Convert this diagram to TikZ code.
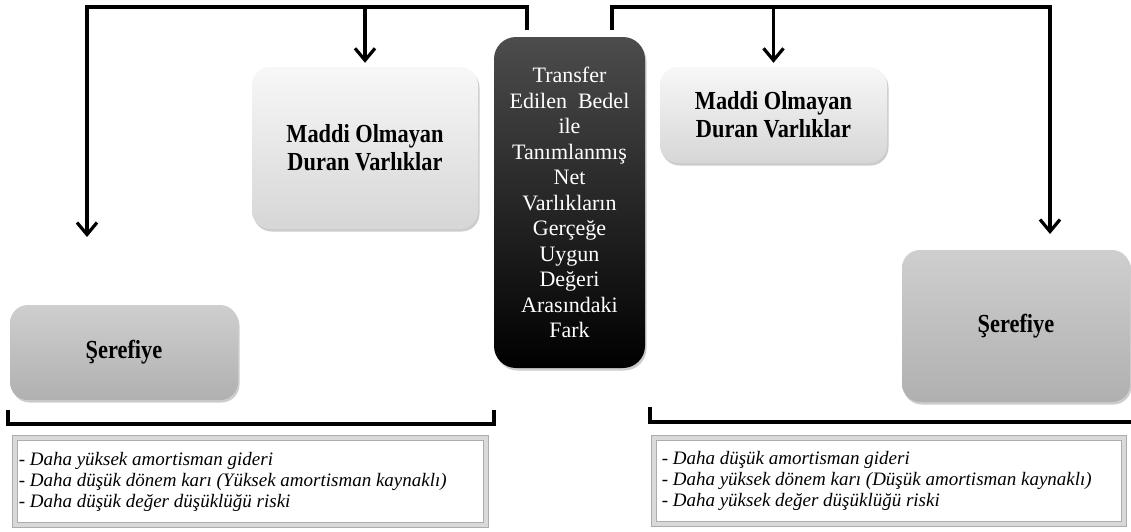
\documentclass[tikz,border=0pt]{standalone}
\usepackage{fontspec}
\setmainfont{Liberation Serif}
\newfontfamily\narrowserif[FakeStretch=0.86]{Liberation Serif}
\usetikzlibrary{arrows.meta,shadows}

\begin{document}
\begin{tikzpicture}[x=1pt,y=-1pt,
  box/.style={rounded corners=18pt,inner sep=0pt,align=center,
    font=\narrowserif\fontsize{26}{28}\selectfont\bfseries,
    drop shadow={shadow xshift=1.5pt,shadow yshift=-2.5pt,opacity=.4}},
  lightbox/.style={box,top color=gray!6,bottom color=gray!32},
  darkbox/.style={box,top color=gray!38,bottom color=gray!62},
  listbox/.style={draw=gray!65,double=gray!30,double distance=4.5pt,line width=.9pt,inner sep=0pt},
  listtext/.style={anchor=west,align=left,inner sep=0pt,font=\fontsize{19}{21}\selectfont\itshape},
  link/.style={line width=3.2pt},
  arr/.style={link,-{Straight Barb[length=12pt,width=20pt]}},
  bracket/.style={line width=3.2pt}]
\useasboundingbox (0,0) rectangle (1131,531);

% boxes
\node[lightbox,minimum width=226pt,minimum height=162pt] (lmaddi) at (365,148) {Maddi Olmayan\\Duran Varlıklar};
\node[lightbox,minimum width=227pt,minimum height=96pt] (rmaddi) at (773.5,115) {Maddi Olmayan\\Duran Varlıklar};
\node[box,top color=black!70,middle color=black,bottom color=black,rounded corners=22pt,
  minimum width=151pt,minimum height=331pt,text=white,font=\fontsize{22}{25.5}\selectfont] (fark) at (569.5,202.5)
  {Transfer\\Edilen\ \ Bedel\\ile\\Tanımlanmış\\Net\\Varlıkların\\Gerçeğe\\Uygun\\Değeri\\Arasındaki\\Fark};
\node[darkbox,minimum width=228pt,minimum height=95pt] (lseref) at (124,352.5) {Şerefiye};
\node[darkbox,minimum width=228pt,minimum height=152pt] (rseref) at (1016,326) {Şerefiye};

% connectors
\coordinate (lstub) at ([xshift=-42.5pt,yshift=7pt]fark.north);
\coordinate (rstub) at ([xshift=42.5pt,yshift=7pt]fark.north);
\coordinate (lcorner) at (87,7);
\coordinate (ldown) at (87,237);
\coordinate (rcorner) at (1050,7);
\coordinate (rdown) at (1050,234);
\draw[arr] (lstub) |- (lcorner) -- (ldown);
\draw[arr] (lmaddi.north |- lcorner) -- ([yshift=4pt]lmaddi.north);
\draw[arr] (rstub) |- (rcorner) -- (rdown);
\draw[arr] (rmaddi.north |- rcorner) -- ([yshift=4pt]rmaddi.north);

% brackets
\draw[bracket] (8,410) |- (494,424) -- (494,410);
\draw[bracket] (650,407) |- (1131,422);

% lists
\node[listbox,minimum width=471pt,minimum height=87pt] (llist) at (250.5,481.5) {};
\node[listtext] (ltxt) at ([xshift=4pt]llist.west) {- Daha yüksek amortisman gideri\\- Daha düşük dönem karı (Yüksek amortisman kaynaklı)\\- Daha düşük değer düşüklüğü riski};
\node[listbox,minimum width=470pt,minimum height=86pt] (rlist) at (889,481) {};
\node[listtext] (rtxt) at ([xshift=8pt]rlist.west) {- Daha düşük amortisman gideri\\- Daha yüksek dönem karı (Düşük amortisman kaynaklı)\\- Daha yüksek değer düşüklüğü riski};
\end{tikzpicture}
\end{document}
